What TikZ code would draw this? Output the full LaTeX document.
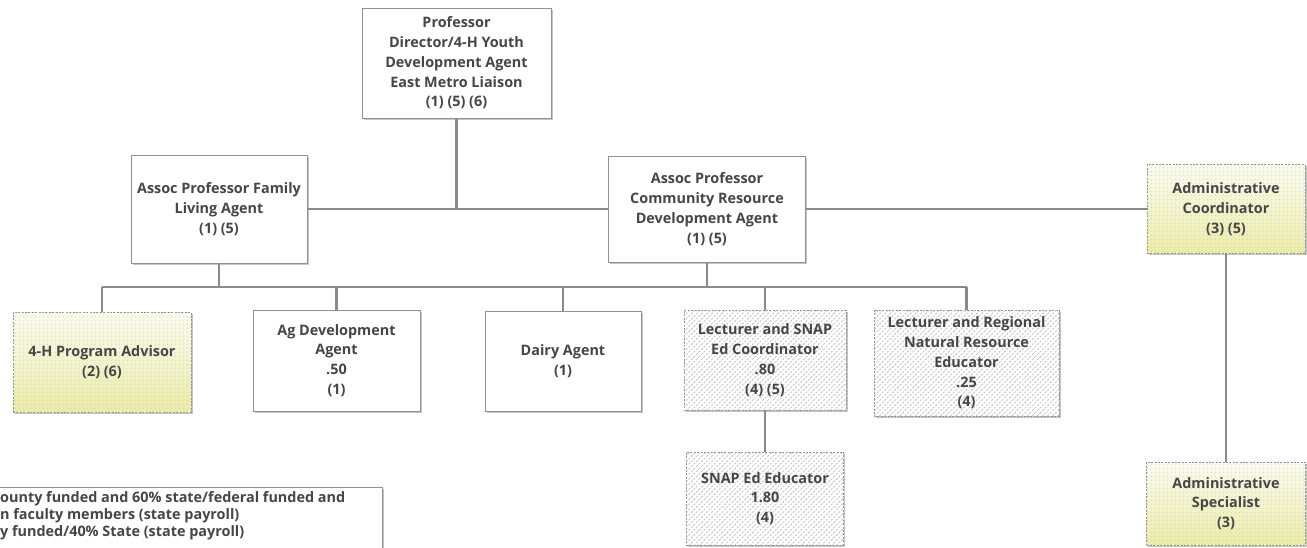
\documentclass[tikz,border=0pt]{standalone}
\usepackage{fontspec}
\setmainfont{Open Sans}
\usetikzlibrary{shadows,patterns.meta}

\definecolor{linegray}{RGB}{138,138,138}
\definecolor{boxgray}{RGB}{145,145,145}
\definecolor{textgray}{RGB}{70,70,70}
\definecolor{creamtop}{RGB}{250,250,238}
\definecolor{creambot}{RGB}{234,236,168}

\begin{document}
\begin{tikzpicture}[x=1pt, y=-1pt,
  every node/.style={font=\fontsize{14.4}{19.8}\selectfont\bfseries, text=textgray,
    align=center, inner sep=0pt},
  orgbox/.style={draw=boxgray, line width=0.9pt, fill=white,
    drop shadow={shadow xshift=1.6pt, shadow yshift=-1.6pt, fill=black!45}},
  openbox/.style={orgbox, dash pattern=on 2pt off 1.4pt, top color=creamtop, bottom color=creambot,
    postaction={pattern color=gray!50, pattern={Dots[distance=4pt, radius=0.45pt]}}},
  grantbox/.style={orgbox, dash pattern=on 2pt off 1.4pt, fill=white,
    postaction={pattern color=gray!50, pattern={Lines[angle=45, distance=3.6pt, line width=0.75pt]}}},
  link/.style={draw=linegray, line width=2.2pt}]

  \clip (0,0) rectangle (1307,547);

  \node[orgbox, minimum width=189, minimum height=110] (prof) at (456.5,63)
    {Professor\\Director/4-H Youth\\Development Agent\\East Metro Liaison\\(1) (5) (6)};
  \node[orgbox, minimum width=176, minimum height=108] (family) at (219,209)
    {Assoc Professor Family\\Living Agent\\(1) (5)};
  \node[orgbox, minimum width=197, minimum height=106] (crd) at (707,209)
    {Assoc Professor\\Community Resource\\Development Agent\\(1) (5)};
  \node[openbox, minimum width=158, minimum height=89] (admcoord) at (1226,209)
    {Administrative\\Coordinator\\(3) (5)};
  \node[openbox, minimum width=159, minimum height=83] (admspec) at (1226,503.5)
    {Administrative\\Specialist\\(3)};

  \node[openbox, minimum width=178, minimum height=100] (advisor) at (102,362)
    {4-H Program Advisor\\(2) (6)};
  \node[orgbox, minimum width=167, minimum height=101] (agdev) at (336.5,360.5)
    {Ag Development\\Agent\\.50\\(1)};
  \node[orgbox, minimum width=156, minimum height=100] (dairy) at (563,361)
    {Dairy Agent\\(1)};
  \node[grantbox, minimum width=162, minimum height=100] (snapcoord) at (765,360)
    {Lecturer and SNAP\\Ed Coordinator\\.80\\(4) (5)};
  \node[grantbox, minimum width=185, minimum height=106] (regional) at (966.5,363)
    {Lecturer and Regional\\Natural Resource\\Educator\\.25\\(4)};
  \node[grantbox, minimum width=157, minimum height=93] (snapedu) at (765,498.5)
    {SNAP Ed Educator\\1.80\\(4)};

  \coordinate (bus) at (0,287);

  \draw[link] (prof.south) -- (prof.south |- family.east);
  \draw[link] (family.east) -- (crd.west);
  \draw[link] (crd.east) -- (admcoord.west);
  \draw[link] (admcoord.south) -- (admspec.north);
  \draw[link] (snapcoord.south) -- (snapedu.north);

  \draw[link] (family.south) -- (family.south |- bus);
  \draw[link] (crd.south) -- (crd.south |- bus);
  \draw[link] (advisor.north |- bus) -- (regional.north |- bus);
  \foreach \n in {advisor,agdev,dairy,snapcoord,regional}
    \draw[link] (\n.north) -- (\n.north |- bus);

  \node[orgbox, minimum width=400, minimum height=80, anchor=north east] (legend) at (383,487) {};
  \node[anchor=north west, align=left, font=\fontsize{14.4}{17}\selectfont\bfseries] (notes) at (0,491)
    {ounty funded and 60\% state/federal funded and\\
     n faculty members (state payroll)\\
     y funded/40\% State (state payroll)};

\end{tikzpicture}
\end{document}
